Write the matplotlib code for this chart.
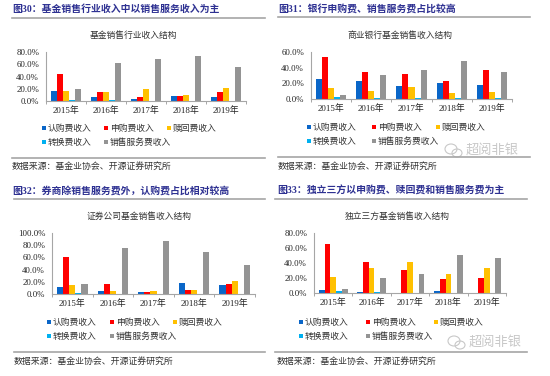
import numpy as np
import matplotlib
matplotlib.use("Agg")
import matplotlib.pyplot as plt
from matplotlib.lines import Line2D
from matplotlib.patches import Rectangle, Ellipse
from matplotlib.ticker import FixedLocator, FuncFormatter

plt.rcParams['font.family'] = ['Noto Sans CJK SC', 'DejaVu Sans']

years = ['2015年', '2016年', '2017年', '2018年', '2019年']
series_names = ['认购费收入', '申购费收入', '赎回费收入', '转换费收入', '销售服务费收入']
series_colors = ['#0A66C8', '#FF0000', '#FFC000', '#00B0F0', '#949494']

# 基金销售行业收入结构 (%)
industry = [
    [16, 7, 3, 8, 6],
    [44, 15, 7, 8, 15],
    [16, 14, 19, 9, 21],
    [2, 1, 0.5, 0.3, 0.3],
    [20, 62, 68, 73, 55],
]
# 商业银行基金销售收入结构 (%)
bank = [
    [25, 23, 17, 21, 18],
    [53, 35, 32, 23, 37],
    [14, 10, 15, 8, 9],
    [2, 1.5, 1.5, 1, 1.5],
    [5, 31, 37, 48, 35],
]
# 证券公司基金销售收入结构 (%)
broker = [
    [11, 5, 4, 18, 15],
    [60, 16, 3, 6, 17],
    [14, 5, 5, 7, 21],
    [1, 0.5, 0.5, 0.5, 0.5],
    [17, 75, 87, 69, 47],
]
# 独立三方基金销售收入结构 (%)
third_party = [
    [4, 2, 0.5, 3, 0.5],
    [66, 42, 31, 19, 20],
    [21, 33, 41, 26, 33],
    [3, 1, 0.5, 0.5, 0.5],
    [5, 20, 26, 51, 47],
]

W, H = 550, 376
fig = plt.figure(figsize=(W / 100, H / 100), dpi=100)

title_color = '#2E3192'
rule_color = '#A6A6A6'
axis_color = '#A6A6A6'
serif_cjk = ['Liberation Serif', 'Noto Sans CJK SC']


def fx(x):
    return x / W


def fy(y):
    return 1 - y / H


def hline(x0, x1, y, lw=1.2):
    fig.add_artist(Line2D([fx(x0), fx(x1)], [fy(y), fy(y)], color=rule_color, lw=lw))


panels = [
    dict(fig_title='图30：基金销售行业收入中以销售服务收入为主', chart_title='基金销售行业收入结构',
         data=industry, ymax=80, yticks=[0, 20, 40, 60, 80],
         rect=(46, 52, 246, 101), title_xy=(12, 9), rule_top=(12, 265, 18),
         ctitle_xy=(133, 35), legend_x=(42, 104, 167), legend_y=(128, 142),
         rule_bot=(12, 265, 158), source_xy=(12, 166), mark=None),
    dict(fig_title='图31：银行申购费、销售服务费占比较高', chart_title='商业银行基金销售收入结构',
         data=bank, ymax=60, yticks=[0, 20, 40, 60],
         rect=(311, 52, 512, 99), title_xy=(278, 9), rule_top=(278, 530, 17),
         ctitle_xy=(400, 35), legend_x=(307, 372, 436), legend_y=(127, 141),
         rule_bot=(278, 530, 157), source_xy=(278, 166), mark=(445, 150)),
    dict(fig_title='图32：券商除销售服务费外，认购费占比相对较高', chart_title='证券公司基金销售收入结构',
         data=broker, ymax=100, yticks=[0, 20, 40, 60, 80, 100],
         rect=(52, 233, 255, 294), title_xy=(12, 191), rule_top=(14, 265, 199),
         ctitle_xy=(139, 216), legend_x=(47, 110, 173), legend_y=(322, 336),
         rule_bot=(14, 265, 352), source_xy=(14, 361), mark=None),
    dict(fig_title='图33：独立三方以申购费、赎回费和销售服务费为主', chart_title='独立三方基金销售收入结构',
         data=third_party, ymax=80, yticks=[0, 20, 40, 60, 80],
         rect=(314, 233, 506, 293), title_xy=(277, 191), rule_top=(275, 527, 199),
         ctitle_xy=(397, 216), legend_x=(299, 366, 434), legend_y=(322, 336),
         rule_bot=(275, 527, 352), source_xy=(277, 361), mark=(448, 342)),
]

x = np.arange(len(years))
bw = 0.15

for p in panels:
    # headings and rules
    tx, ty = p['title_xy']
    fig.text(fx(tx), fy(ty), p['fig_title'], fontsize=7.1, fontweight='bold',
             color=title_color, ha='left', va='center', family=serif_cjk)
    hline(*p['rule_top'])
    cx, cy = p['ctitle_xy']
    fig.text(fx(cx), fy(cy), p['chart_title'], fontsize=6.3, color='#333333',
             ha='center', va='center')

    # chart
    l, t, r, b = p['rect']
    ax = fig.add_axes([fx(l), fy(b), (r - l) / W, (b - t) / H])
    for i, vals in enumerate(p['data']):
        ax.bar(x + (i - 2) * bw, vals, bw, color=series_colors[i], linewidth=0)
    ax.set_xlim(-0.5, len(years) - 0.5)
    ax.set_ylim(0, p['ymax'])
    ax.set_yticks(p['yticks'])
    ax.yaxis.set_major_formatter(FuncFormatter(lambda v, pos: f'{v:.1f}%'))
    ax.set_xticks(x)
    ax.set_xticklabels(years)
    ax.xaxis.set_minor_locator(FixedLocator(np.arange(-0.5, len(years), 1.0)))
    ax.tick_params(axis='x', which='major', length=0, pad=4)
    ax.tick_params(axis='x', which='minor', length=2.5, width=0.7, color=axis_color, direction='out')
    ax.tick_params(axis='y', length=0, pad=5)
    for lab in ax.get_xticklabels():
        lab.set_family(serif_cjk)
        lab.set_fontsize(6.4)
        lab.set_color('#222222')
    for lab in ax.get_yticklabels():
        lab.set_family(serif_cjk)
        lab.set_fontsize(6.3)
        lab.set_color('#222222')
    for side in ('top', 'right'):
        ax.spines[side].set_visible(False)
    for side in ('left', 'bottom'):
        ax.spines[side].set_color(axis_color)
        ax.spines[side].set_linewidth(0.8)
    ax.patch.set_alpha(0)

    # legend laid out like the Excel one: 3 columns, 2 rows
    slots = [(0, 0), (1, 0), (2, 0), (0, 1), (1, 1)]
    for (ci, ri), name, col in zip(slots, series_names, series_colors):
        lx = p['legend_x'][ci]
        ly = p['legend_y'][ri]
        fig.add_artist(Rectangle((fx(lx), fy(ly + 2)), 4 / W, 4 / H, color=col, lw=0))
        fig.text(fx(lx + 6), fy(ly), name, fontsize=6.3, color='#333333', ha='left', va='center')

    hline(*p['rule_bot'])
    sx, sy = p['source_xy']
    fig.text(fx(sx), fy(sy), '数据来源：基金业协会、开源证券研究所', fontsize=6.4,
             color='#333333', ha='left', va='center')

    # watermark
    if p['mark'] is not None:
        mx, my = p['mark']
        fig.add_artist(Ellipse((fx(mx + 6), fy(my - 1)), 12 / W, 10 / H, fill=False,
                               ec='#C8C8C8', lw=0.8))
        fig.add_artist(Ellipse((fx(mx + 12), fy(my + 3)), 10 / W, 8 / H, fill=False,
                               ec='#C8C8C8', lw=0.8))
        fig.text(fx(mx + 21), fy(my), '超阅非银', fontsize=9.5, color='#C8C8C8',
                 ha='left', va='center')

fig.savefig('out.png', dpi=100)
